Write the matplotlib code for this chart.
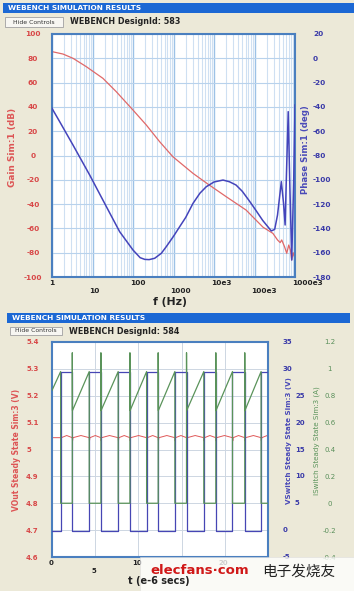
import matplotlib
matplotlib.use('Agg')
import matplotlib.pyplot as plt
from matplotlib.patches import Rectangle
from matplotlib.ticker import LogLocator, NullFormatter
from matplotlib import transforms

# ---------------- data ----------------
# Bode plot (top): gain
freq_gain = [1, 1.87, 3.3, 7.04, 18.1, 38.7, 100, 213, 454, 965, 3030, 7050,
             2.0e4, 6.2e4, 1.62e5, 2.85e5, 3.7e5, 4.3e5, 4.7e5, 5.5e5, 6.25e5,
             7.0e5, 7.7e5, 8.3e5, 9.0e5, 1.0e6]
gain_db = [85.5, 83.5, 80.0, 73.1, 63.5, 52.5, 37.4, 25.1, 11.4, -1.0, -14.7, -23.5,
           -33.9, -44.9, -59.0, -64.1, -69.5, -71.7, -69.5, -75.0, -80.5,
           -73.7, -77.8, -86.0, -80.0, -85.0]
# Bode plot (top): phase
freq_phase = [1, 1.55, 3.3, 8.5, 22, 46.8, 100, 150, 195, 250, 343, 500, 664, 1000,
              1420, 2000, 3030, 4500, 6440, 1.0e4, 1.67e4, 2.4e4, 3.5e4, 5.0e4, 7.5e4,
              1.05e5, 1.6e5, 2.6e5, 3.15e5, 3.7e5, 4.6e5, 5.2e5, 5.7e5, 6.1e5, 6.8e5,
              7.4e5, 8.3e5, 9.3e5, 1.0e6]
phase_deg = [-41.2, -52.2, -71.4, -96.0, -122.1, -142.7, -157.8, -164.1, -165.5, -165.7,
             -164.6, -160.5, -155.0, -146.5, -138.6, -131.0, -119.4, -111.0, -105.7,
             -101.8, -100.2, -101.6, -104.3, -109.5, -117.5, -124.5, -133.5, -142.1,
             -140.8, -129.0, -101.5, -119.0, -137.2, -100.0, -43.9, -100.0, -166.0,
             -100.0, -38.4]
gain_ticks = [100, 80, 60, 40, 20, 0, -20, -40, -60, -80, -100]
phase_ticks = [20, 0, -20, -40, -60, -80, -100, -120, -140, -160, -180]
freq_ticks = [1, 10, 100, 1000, 1e4, 1e5, 1e6]
freq_labels = ['1', '10', '100', '1000', '10e3', '100e3', '1000e3']

# Steady state (bottom)
t_rise = [1.00, 4.31, 7.66, 10.95, 14.22, 17.57, 20.89, 24.20]
t_fall = [2.35, 5.66, 9.02, 12.29, 15.57, 18.96, 22.31]
vsw_high, vsw_low = 29.4, -0.2
isw_spike, isw_ramp_lo, isw_ramp_hi, isw_off = 1.12, 0.69, 0.98, 0.0
isw_start = 0.84
vout_base, vout_hi, vout_dip = 5.044, 5.052, 5.032
vout_ticks = [4.6, 4.7, 4.8, 4.9, 5.0, 5.1, 5.2, 5.3, 5.4]
vout_labels = ['4.6', '4.7', '4.8', '4.9', '5', '5.1', '5.2', '5.3', '5.4']
vsw_ticks = [-5, 0, 5, 10, 15, 20, 25, 30, 35]
isw_ticks = [-0.4, -0.2, 0, 0.2, 0.4, 0.6, 0.8, 1.0, 1.2]
isw_labels = ['-0.4', '-0.2', '0', '0.2', '0.4', '0.6', '0.8', '1', '1.2']
t_ticks = [0, 5, 10, 15, 20, 25]
t_labels_visible = [0, 5, 10, 20]   # 15 and 25 are hidden under the watermark

# ---------------- figure ----------------
W, H = 354, 591
BG = '#ECE9D8'
RED = '#d84848'
BLUE = '#3a3aa8'
GREEN = '#5a8f5a'
fig = plt.figure(figsize=(W / 100, H / 100), dpi=100, facecolor=BG)


def fx(x):
    return x / W


def fy(y):
    return 1 - y / H


def rect(x0, y0, x1, y1, **kw):
    fig.patches.append(Rectangle((fx(x0), fy(y1)), fx(x1) - fx(x0), fy(y0) - fy(y1),
                                 transform=fig.transFigure, **kw))


def panel_header(y0, x0, x1, bx0, bx1, by0, by1, design):
    rect(x0, y0, x1, y0 + 10, facecolor='#1c68d4', edgecolor='none')
    fig.text(fx(x0 + 5), fy(y0 + 5), 'WEBENCH SIMULATION RESULTS', color='white',
             fontsize=5.3, fontweight='bold', va='center', ha='left')
    rect(bx0, by0, bx1, by1, facecolor='#f7f6f2', edgecolor='#a0a0a0', linewidth=0.6)
    fig.text(fx((bx0 + bx1) / 2), fy((by0 + by1) / 2), 'Hide Controls', color='#333333',
             fontsize=4.4, va='center', ha='center')
    fig.text(fx(bx1 + 7), fy((by0 + by1) / 2), 'WEBENCH DesignId: ' + design,
             color='#222222', fontsize=5.8, fontweight='bold', va='center', ha='left')


panel_header(3, 3, 354, 5, 63, 17, 27, '583')
panel_header(313, 7, 350, 10, 62, 327, 335, '584')

# ---------------- top: Bode ----------------
ax1 = fig.add_axes([fx(52), fy(277), (295 - 52) / W, (277 - 34) / H])
ax1.set_facecolor('white')
ax1.set_xscale('log')
ax1.set_xlim(1, 1e6)
ax1.set_ylim(-100, 100)
ax1.xaxis.set_major_locator(LogLocator(base=10, numticks=10))
ax1.xaxis.set_minor_locator(LogLocator(base=10, subs=range(2, 10), numticks=20))
ax1.xaxis.set_minor_formatter(NullFormatter())
ax1.set_xticklabels([])
ax1.grid(True, which='major', axis='x', color='#9dc2e6', linewidth=1.0)
ax1.grid(True, which='minor', axis='x', color='#cfe0f2', linewidth=0.8)
ax1.grid(True, which='major', axis='y', color='#b8d2ec', linewidth=0.8)
ax1.set_yticks(gain_ticks)
ax1.set_yticklabels([str(v) for v in gain_ticks])
ax1.tick_params(axis='both', which='both', length=0)
ax1.tick_params(axis='y', pad=13.7, labelsize=5.3, labelcolor=RED)
for lbl in ax1.get_yticklabels():
    lbl.set_ha('center')
    lbl.set_fontweight('bold')
for s in ax1.spines.values():
    s.set_color('#4a7fbf')
    s.set_linewidth(1.5)
ax1.plot(freq_gain, gain_db, color='#e06868', linewidth=0.9)

ax1b = ax1.twinx()
ax1b.set_ylim(-180, 20)
ax1b.set_yticks(phase_ticks)
ax1b.set_yticklabels([str(v) for v in phase_ticks])
ax1b.tick_params(axis='y', length=0, pad=13.0, labelsize=5.3, labelcolor=BLUE)
for lbl in ax1b.get_yticklabels():
    lbl.set_fontweight('bold')
for s in ax1b.spines.values():
    s.set_visible(False)
ax1b.plot(freq_phase, phase_deg, color='#4444bb', linewidth=1.1)

# x tick labels in two rows
xt = transforms.blended_transform_factory(ax1.transData, ax1.transAxes)
for i, (f, lab) in enumerate(zip(freq_ticks, freq_labels)):
    dy = -6 if i % 2 == 0 else -14
    tr = transforms.offset_copy(xt, fig=fig, x=-3, y=dy, units='dots')
    ax1.text(f, 0, lab, transform=tr, ha='left', va='center', fontsize=5.3,
             fontweight='bold', color='#222222')
fig.text(fx(170), fy(302), 'f (Hz)', fontsize=7.8, fontweight='bold', color='#222222',
         ha='center', va='center')
fig.text(fx(13), fy(147), 'Gain Sim:1 (dB)', rotation=90, fontsize=6.4,
         fontweight='bold', color='#dd5555', ha='center', va='center')
fig.text(fx(305), fy(150), 'Phase Sim:1 (deg)', rotation=90, fontsize=6.2,
         fontweight='bold', color='#4a4ab8', ha='center', va='center')

# ---------------- bottom: steady state ----------------
ax2 = fig.add_axes([fx(52), fy(557), (268 - 52) / W, (557 - 342) / H])
ax2.set_facecolor('white')
ax2.set_xlim(0, 25)
ax2.set_ylim(4.6, 5.4)
ax2.set_xticks(t_ticks)
ax2.set_xticklabels([])
ax2.set_yticks(vout_ticks)
ax2.set_yticklabels(vout_labels)
ax2.grid(True, color='#cdd6e2', linewidth=0.7)
ax2.tick_params(axis='both', length=0)
ax2.tick_params(axis='y', pad=18.7, labelsize=5.0, labelcolor=RED)
for lbl in ax2.get_yticklabels():
    lbl.set_ha('left')
    lbl.set_fontweight('bold')
for s in ax2.spines.values():
    s.set_color('#4a7fbf')
    s.set_linewidth(1.5)

# build waveforms from read edge times
edges = sorted([(t, 'r') for t in t_rise] + [(t, 'f') for t in t_fall])
bt, bv = [0.0], [vsw_low]
gt, gv = [0.0], [isw_start]
vt, vv = [0.0], [vout_base]
for t, kind in edges:
    if kind == 'r':
        bt += [t, t]; bv += [vsw_low, vsw_high]
        gt += [t, t]; gv += [isw_ramp_hi, isw_off]
        vt += [t, t + 0.03, t + 0.08, t + 0.7]; vv += [vout_base, vout_dip, vout_base, vout_hi]
    else:
        bt += [t, t]; bv += [vsw_high, vsw_low]
        gt += [t, t, t + 0.02]; gv += [isw_off, isw_spike, isw_ramp_lo]
        vt += [t, t + 0.03, t + 0.08, t + 1.0]; vv += [vout_base, vout_dip, vout_base, vout_hi]
bt.append(25.0); bv.append(bv[-1])
gt.append(25.0); gv.append(gv[-1])
vt.append(25.0); vv.append(vout_base)

ax2.plot(vt, vv, color='#e05858', linewidth=0.7)

ax2b = ax2.twinx()
ax2b.set_ylim(-5, 35)
ax2b.set_yticks([])
for s in ax2b.spines.values():
    s.set_visible(False)
ax2b.plot(bt, bv, color='#4646b4', linewidth=0.9)
# VSwitch tick labels: the ones beside the axis title are pushed to the right
yt_b = transforms.blended_transform_factory(ax2b.transAxes, ax2b.transData)
for v in vsw_ticks:
    dx = 27 if 5 <= v <= 25 else 15
    tr = transforms.offset_copy(yt_b, fig=fig, x=dx, y=0, units='dots')
    ax2b.text(1, v, str(v), transform=tr, ha='left', va='center', fontsize=5.0,
              fontweight='bold', color=BLUE)

ax2c = ax2.twinx()
ax2c.set_ylim(-0.4, 1.2)
ax2c.set_yticks(isw_ticks)
ax2c.set_yticklabels(isw_labels)
ax2c.tick_params(axis='y', length=0, pad=44.6, labelsize=5.0, labelcolor=GREEN)
for lbl in ax2c.get_yticklabels():
    lbl.set_ha('center')
for s in ax2c.spines.values():
    s.set_visible(False)
ax2c.plot(gt, gv, color='#5a935a', linewidth=0.9)

xt2 = transforms.blended_transform_factory(ax2.transData, ax2.transAxes)
for i, t in enumerate(t_ticks):
    if t not in t_labels_visible:
        continue
    dy = -6 if i % 2 == 0 else -14
    tr = transforms.offset_copy(xt2, fig=fig, x=-1, y=dy, units='dots')
    ax2.text(t, 0, str(t), transform=tr, ha='center', va='center', fontsize=5.0,
             fontweight='bold', color='#222222')
fig.text(fx(159), fy(581), 't (e-6 secs)', fontsize=7.0, fontweight='bold',
         color='#222222', ha='center', va='center')
fig.text(fx(17), fy(450), 'VOut Steady State Sim:3 (V)', rotation=90, fontsize=5.5,
         fontweight='bold', color='#dd5555', ha='center', va='center')
fig.text(fx(289), fy(441), 'VSwitch Steady State Sim:3 (V)', rotation=90, fontsize=5.1,
         fontweight='bold', color='#4a4ab8', ha='center', va='center')
fig.text(fx(317), fy(441), 'ISwitch Steady State Sim:3 (A)', rotation=90, fontsize=5.1,
         color='#5a935a', ha='center', va='center')

# watermark
rect(140, 557, 354, 591, facecolor='white', edgecolor='#dddddd', linewidth=0.5, alpha=0.78)
fig.text(fx(150), fy(571), 'elecfans·com', fontsize=9.5, fontweight='bold',
         color='#d01818', ha='left', va='center')
fig.text(fx(262), fy(572), '电子发烧友', fontsize=10.5, color='#222222',
         family=['Noto Sans CJK SC', 'DejaVu Sans'], ha='left', va='center')

fig.savefig('out.png', dpi=100, facecolor=BG)
